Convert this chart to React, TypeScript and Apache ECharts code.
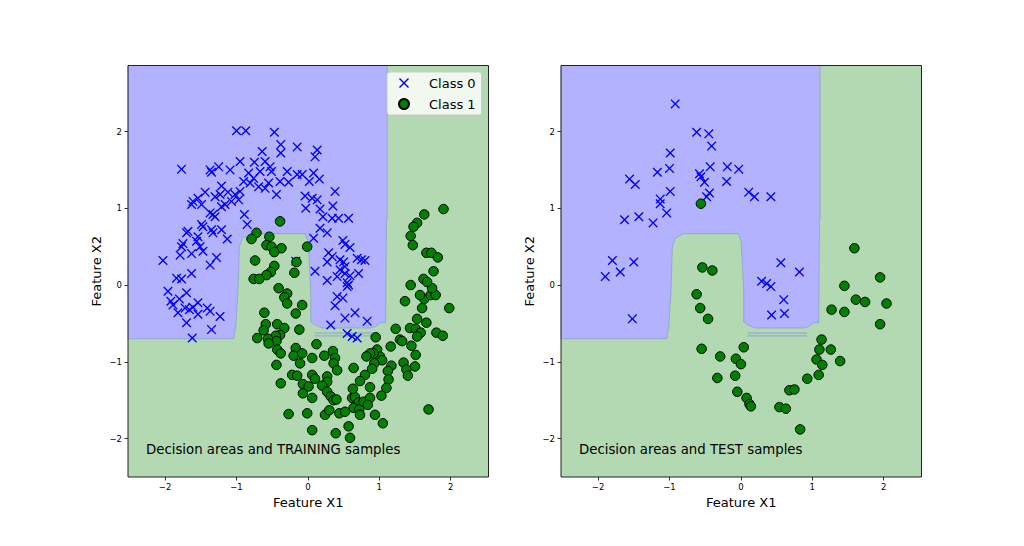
import React, { useEffect, useRef } from "react";
import * as echarts from "echarts";

const FONT = "DejaVu Sans";
const xExtent = [-2.52, 2.53];
const yExtent = [-2.5, 2.86];
const tickValues = [-2, -1, 0, 1, 2];
const xAxisName = "Feature X1";
const yAxisName = "Feature X2";
const classNames = ["Class 0", "Class 1"];
const panelTitles = ["Decision areas and TRAINING samples", "Decision areas and TEST samples"];

// decision boundary of the class-0 (blue) region
const boundaryX = [-2.52, 1.11, 1.11, 1.1, 1.1, 1.09, 1.02, 0.95, 0.88, 0.2, 0.1, 0.04, 0.04, 0.02, 0.0, -0.04, -0.8, -0.92, -0.96, -0.98, -1.01, -1.04, -2.52];
const boundaryY = [2.86, 2.86, 0.86, 0.84, 0.8, -0.49, -0.49, -0.54, -0.56, -0.56, -0.52, -0.48, -0.1, 0.3, 0.58, 0.67, 0.67, 0.61, 0.5, -0.1, -0.54, -0.7, -0.7];
const sliverX = [0.1, 0.92];
const sliverY = [[-0.618, -0.632], [-0.655, -0.668]];

const trainClass0 = [
  [-1.0, 2.01], [-0.87, 2.01], [-0.47, 1.99], [-0.38, 1.83], [-0.38, 1.72], [-0.15, 1.8], [-0.64, 1.74], [-1.77, 1.51],
  [-1.37, 1.5], [-1.35, 1.47], [-1.25, 1.54], [-1.09, 1.5], [-0.95, 1.61], [-0.75, 1.6], [-0.6, 1.61], [-0.53, 1.54],
  [-0.51, 1.48], [-0.29, 1.48], [-0.15, 1.44], [-0.08, 1.44], [-0.83, 1.46], [-0.67, 1.48], [-0.76, 1.39], [-0.9, 1.35],
  [-0.81, 1.33], [-0.69, 1.28], [-0.6, 1.26], [-0.55, 1.33], [-0.39, 1.35], [-0.27, 1.34], [-0.44, 1.18], [-1.21, 1.29],
  [-1.12, 1.21], [-1.23, 1.18], [-1.3, 1.15], [-1.44, 1.21], [-1.54, 1.13], [-1.61, 1.09], [-1.63, 1.05], [-1.49, 1.05],
  [-0.95, 1.22], [-1.02, 1.18], [-0.97, 1.11], [-1.07, 1.09], [-1.16, 1.05], [-1.21, 1.02], [-1.33, 0.92], [-1.37, 0.94],
  [-1.3, 0.89], [-0.89, 0.92], [-0.85, 0.79], [-1.49, 0.79], [-1.47, 0.76], [-1.68, 0.7], [-1.7, 0.68], [-1.35, 0.72],
  [-1.33, 0.68], [-1.21, 0.72], [-1.13, 0.6], [-1.54, 0.63], [-1.56, 0.57], [-1.75, 0.54], [-1.77, 0.5], [-1.51, 0.5],
  [-1.47, 0.44], [-1.63, 0.41], [-1.79, 0.39], [-2.03, 0.32], [-1.28, 0.36], [-1.37, 0.26], [-1.84, 0.09], [-1.77, 0.08],
  [-1.63, 0.15], [-0.03, 1.0], [-0.04, 1.16], [-0.17, 0.31],
  [0.13, 1.76], [0.1, 1.67], [0.08, 1.46], [0.16, 1.38], [0.02, 1.35], [0.38, 1.22], [0.35, 1.03], [0.06, 1.13],
  [0.13, 1.11], [0.17, 0.99], [0.21, 0.89], [0.34, 0.87], [0.43, 0.87], [0.57, 0.87], [0.17, 0.74], [0.27, 0.68],
  [0.08, 0.61], [0.49, 0.58], [0.52, 0.53], [0.59, 0.49],
  [0.29, 0.42], [0.34, 0.37], [0.27, 0.3], [0.45, 0.33], [0.5, 0.3], [0.52, 0.24], [0.45, 0.2], [0.52, 0.15],
  [0.59, 0.12], [0.69, 0.35], [0.75, 0.33], [0.8, 0.32], [0.1, 0.18], [0.71, 0.15], [0.27, 0.06], [0.55, 0.03],
  [0.57, 0.0], [0.55, -0.02], [0.41, 0.11],
  [0.41, -0.15], [0.49, -0.17], [0.38, -0.27], [0.52, -0.43], [0.66, -0.36], [0.83, -0.47], [0.32, -0.52], [0.55, -0.63],
  [0.62, -0.67], [0.69, -0.69],
  [-1.96, -0.08], [-1.7, -0.1], [-1.92, -0.21], [-1.8, -0.18], [-1.89, -0.26], [-1.54, -0.23], [-1.72, -0.3], [-1.66, -0.32],
  [-1.61, -0.29], [-1.41, -0.3], [-1.37, -0.34], [-1.82, -0.36], [-1.54, -0.38], [-1.23, -0.41], [-1.7, -0.49], [-1.35, -0.58],
  [-1.62, -0.69],
];

const trainClass1 = [
  [-0.39, 0.83], [-0.72, 0.68], [-0.79, 0.6], [-0.54, 0.63], [-0.58, 0.52], [-0.51, 0.5], [-0.37, 0.48], [-0.47, 0.43],
  [-0.74, 0.32], [-0.47, 0.25], [-0.52, 0.17], [-0.58, 0.13], [-0.76, 0.08], [-0.68, 0.08], [-0.19, 0.16], [-0.16, 0.3],
  [-0.01, 0.5],
  [-0.41, -0.04], [-0.29, -0.11], [-0.33, -0.16], [-0.29, -0.24], [-0.08, -0.26], [-0.61, -0.36], [-0.17, -0.37], [-0.59, -0.51],
  [-0.43, -0.51], [-0.33, -0.56], [-0.62, -0.59], [-0.12, -0.58], [-0.39, -0.65], [-0.45, -0.66], [-0.71, -0.69], [-0.56, -0.7],
  [-0.44, -0.73], [-0.55, -0.76], [-0.43, -0.84], [-0.38, -0.89], [-0.17, -0.82], [-0.2, -0.92], [-0.08, -0.89], [-0.11, -1.02],
  [-0.44, -1.04], [-0.22, -1.17], [-0.15, -1.18], [-0.38, -1.28], [-0.07, -1.29], [-0.07, -1.41], [-0.27, -1.68], [-0.01, -1.67],
  [0.12, -0.77], [0.06, -0.95], [0.23, -0.92], [0.35, -0.86], [0.38, -0.95], [0.36, -1.02], [0.41, -1.11], [0.06, -1.17],
  [0.1, -1.22], [0.01, -1.32], [0.27, -1.19], [0.27, -1.26], [0.2, -1.31], [0.27, -1.39], [0.32, -1.45], [0.36, -1.5],
  [0.4, -1.49], [0.06, -1.47], [0.24, -1.69], [0.3, -1.63], [0.44, -1.67], [0.52, -1.65], [0.62, -1.47], [0.66, -1.46],
  [0.71, -1.53], [0.64, -1.6], [0.72, -1.62], [0.73, -1.69], [0.06, -1.89], [0.39, -1.93], [0.57, -1.84], [0.59, -1.99],
  [0.63, -1.35], [0.78, -1.52],
  [0.95, -0.68], [0.97, -0.84], [1.01, -0.93], [1.04, -0.98], [0.92, -0.89], [0.87, -0.89], [0.82, -0.93], [0.93, -1.02],
  [0.9, -1.09], [0.8, -1.17], [0.73, -1.25], [0.64, -1.08], [1.17, -1.05], [1.12, -1.12], [1.13, -1.23], [1.1, -1.34],
  [1.03, -1.44], [0.87, -1.33], [0.87, -1.47], [0.84, -1.56], [0.94, -1.69], [1.05, -1.8], [1.69, -1.62],
  [1.23, -0.57], [1.29, -0.71], [1.32, -0.73], [1.45, -0.79], [1.16, -0.8], [1.51, -0.91], [1.34, -1.01], [1.38, -1.1],
  [1.4, -1.18], [1.5, -1.06], [1.43, -0.56], [1.51, -0.57], [1.58, -0.62], [1.53, -0.67], [1.8, -0.62], [1.89, -0.66],
  [1.53, -0.44], [1.66, -0.49], [1.6, -0.3], [1.98, -0.3], [1.36, -0.21], [1.63, -0.18], [1.57, -0.13], [1.72, -0.13],
  [1.79, -0.13], [1.74, -0.04], [1.44, 0.0], [1.62, 0.08], [1.67, 0.04],
  [1.9, 0.99], [1.63, 0.92], [1.53, 0.81], [1.48, 0.76], [1.44, 0.64], [1.47, 0.52], [1.66, 0.42], [1.73, 0.42],
  [1.82, 0.36], [1.76, 0.18],
];

const testClass0 = [
  [-0.92, 2.36], [-0.62, 1.99], [-0.45, 1.97], [-0.41, 1.81], [-0.99, 1.72], [-1.17, 1.47], [-1.0, 1.52], [-1.56, 1.38],
  [-1.48, 1.31], [-0.58, 1.45], [-0.56, 1.41], [-0.43, 1.54], [-0.51, 1.34], [-0.19, 1.54], [-0.03, 1.51], [-0.2, 1.35],
  [-0.99, 1.22], [-1.13, 1.12], [-1.13, 1.06], [-1.04, 0.94], [-0.44, 1.2], [-0.48, 1.15], [0.11, 1.21], [0.19, 1.15],
  [0.42, 1.15], [-1.63, 0.85], [-1.43, 0.89], [-1.23, 0.81], [-1.8, 0.32], [-1.5, 0.3], [-1.69, 0.17], [-1.9, 0.11],
  [-1.52, -0.44], [0.56, 0.29], [0.82, 0.17], [0.29, 0.05], [0.36, 0.02], [0.42, -0.02], [0.6, -0.19], [0.43, -0.39],
  [0.61, -0.37],
];

const testClass1 = [
  [-0.56, 1.06], [-0.54, 0.23], [-0.4, 0.19], [-0.62, -0.12], [-0.57, -0.3], [-0.46, -0.44], [-0.55, -0.83], [-0.29, -0.93],
  [0.04, -0.81], [-0.07, -0.96], [0.0, -1.03], [-0.33, -1.21], [-0.08, -1.18], [-0.05, -1.39], [0.08, -1.47], [0.12, -1.55],
  [0.14, -1.58], [0.54, -1.59], [0.63, -1.61], [0.68, -1.37], [0.75, -1.36], [0.93, -1.22], [0.83, -1.88], [1.09, -1.17],
  [1.06, -0.97], [1.14, -1.04], [1.1, -0.84], [1.13, -0.71], [1.26, -0.84], [1.39, -0.99], [1.27, -0.32], [1.45, -0.01],
  [1.45, -0.35], [1.61, -0.19], [1.74, -0.22], [1.59, 0.48], [1.95, 0.1], [2.04, -0.24], [1.95, -0.51],
];

const BLUE_AREA = "#b2b2ff";
const GREEN_AREA = "#b2d9b2";
const X_SYMBOL = "path://M0,1L1,0L5,4L9,0L10,1L6,5L10,9L9,10L5,6L1,10L0,9L4,5Z";

const fmt = (v: number) => (v < 0 ? "\u2212" + Math.abs(v) : String(v));

function regionSeries(idx: number) {
  return {
    type: "custom",
    xAxisIndex: idx,
    yAxisIndex: idx,
    data: [[0, 0]],
    clip: false,
    silent: true,
    z: 1,
    renderItem: (_p: any, api: any) => {
      const tl = api.coord([xExtent[0], yExtent[1]]);
      const br = api.coord([xExtent[1], yExtent[0]]);
      const pts = boundaryX.map((x, i) => api.coord([x, boundaryY[i]]));
      const slivers = sliverY.map(([a, b]) => {
        const p0 = api.coord([sliverX[0], a]);
        const p1 = api.coord([sliverX[1], b]);
        return {
          type: "rect",
          shape: { x: p0[0], y: p0[1], width: p1[0] - p0[0], height: p1[1] - p0[1] },
          style: { fill: BLUE_AREA, stroke: "rgba(110,130,190,0.4)", lineWidth: 0.5 },
        };
      });
      return {
        type: "group",
        children: [
          { type: "rect", shape: { x: tl[0], y: tl[1], width: br[0] - tl[0], height: br[1] - tl[1] }, style: { fill: GREEN_AREA } },
          { type: "polygon", shape: { points: pts }, style: { fill: BLUE_AREA, stroke: "rgba(110,130,190,0.55)", lineWidth: 0.8 } },
          ...slivers,
        ],
      };
    },
  };
}

function frameSeries(idx: number) {
  return {
    type: "custom",
    xAxisIndex: idx,
    yAxisIndex: idx,
    data: [[0, 0]],
    clip: false,
    silent: true,
    z: 10,
    renderItem: (_p: any, api: any) => {
      const tl = api.coord([xExtent[0], yExtent[1]]);
      const br = api.coord([xExtent[1], yExtent[0]]);
      return {
        type: "rect",
        shape: { x: tl[0], y: tl[1], width: br[0] - tl[0], height: br[1] - tl[1] },
        style: { fill: "none", stroke: "#222", lineWidth: 1 },
      };
    },
  };
}

function scatterSeries(idx: number, c0: number[][], c1: number[][]) {
  return [
    {
      type: "scatter",
      name: classNames[0],
      xAxisIndex: idx,
      yAxisIndex: idx,
      data: c0,
      symbol: X_SYMBOL,
      symbolSize: 9.5,
      itemStyle: { color: "#0000ff", opacity: 1 },
      z: 3,
      silent: true,
    },
    {
      type: "scatter",
      name: classNames[1],
      xAxisIndex: idx,
      yAxisIndex: idx,
      data: c1,
      symbol: "circle",
      symbolSize: 9.5,
      itemStyle: { color: "#008000", borderColor: "#000", borderWidth: 1, opacity: 1 },
      z: 4,
      silent: true,
    },
  ];
}

function xAxis(idx: number) {
  return {
    type: "value",
    gridIndex: idx,
    min: xExtent[0],
    max: xExtent[1],
    name: xAxisName,
    nameLocation: "middle",
    nameGap: 17,
    nameTextStyle: { fontSize: 13, color: "#000", fontFamily: FONT },
    axisLine: { show: false, onZero: false },
    axisTick: { show: true, inside: false, length: 3.5, lineStyle: { color: "#000", width: 0.8 }, customValues: tickValues },
    axisLabel: { customValues: tickValues, formatter: fmt, fontSize: 8.5, color: "#000", margin: 5, fontFamily: FONT },
    splitLine: { show: false },
  };
}

function yAxis(idx: number) {
  return {
    type: "value",
    gridIndex: idx,
    min: yExtent[0],
    max: yExtent[1],
    name: yAxisName,
    nameLocation: "middle",
    nameGap: 25,
    nameRotate: 90,
    nameTextStyle: { fontSize: 13, color: "#000", fontFamily: FONT },
    axisLine: { show: false, onZero: false },
    axisTick: { show: true, inside: false, length: 3.5, lineStyle: { color: "#000", width: 0.8 }, customValues: tickValues },
    axisLabel: { customValues: tickValues, formatter: fmt, fontSize: 8.5, color: "#000", margin: 6, fontFamily: FONT },
    splitLine: { show: false },
  };
}

const option = {
  animation: false,
  backgroundColor: "#ffffff",
  textStyle: { fontFamily: FONT },
  grid: [
    { left: 128, top: 65.5, width: 360.5, height: 411.5 },
    { left: 561, top: 65.5, width: 360.5, height: 411.5 },
  ],
  xAxis: [xAxis(0), xAxis(1)],
  yAxis: [yAxis(0), yAxis(1)],
  legend: {
    data: classNames,
    orient: "vertical",
    left: 387,
    top: 72,
    itemWidth: 14,
    itemHeight: 10,
    itemGap: 7,
    padding: [4, 6, 4, 11],
    backgroundColor: "rgba(255,255,255,0.8)",
    borderColor: "#cccccc",
    borderWidth: 1,
    borderRadius: 3,
    selectedMode: false,
    textStyle: { fontSize: 13, color: "#000", fontFamily: FONT, lineHeight: 14, padding: [0, 0, 0, 13] },
    z: 20,
  },
  graphic: [
    { type: "text", left: 146, top: 442.5, z: 20, style: { text: panelTitles[0], fontSize: 13.3, fill: "#000", fontFamily: FONT } },
    { type: "text", left: 579, top: 442.5, z: 20, style: { text: panelTitles[1], fontSize: 13.3, fill: "#000", fontFamily: FONT } },
  ],
  series: [
    regionSeries(0),
    ...scatterSeries(0, trainClass0, trainClass1),
    frameSeries(0),
    regionSeries(1),
    ...scatterSeries(1, testClass0, testClass1),
    frameSeries(1),
  ],
};

export default function App() {
  const ref = useRef<HTMLDivElement>(null);
  useEffect(() => {
    const chart = echarts.init(ref.current!, null, { renderer: "svg" });
    chart.setOption(option as any);
    return () => chart.dispose();
  }, []);
  return (
    <div
      ref={ref}
      style={{ position: "fixed", left: 0, top: 0, width: 1024, height: 546, background: "#fff" }}
    />
  );
}
